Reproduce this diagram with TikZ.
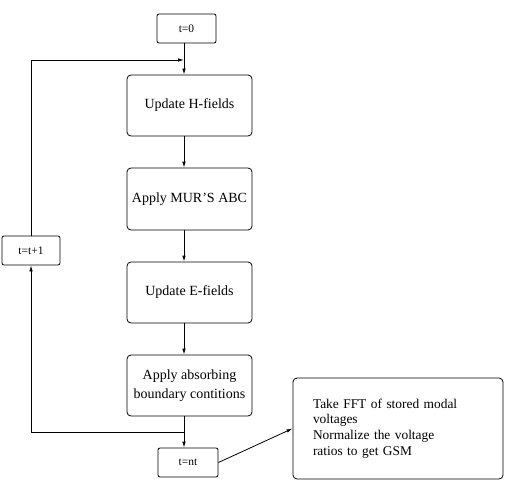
\documentclass[tikz,border=0pt]{standalone}
\usepackage{fontspec}
\setmainfont{Liberation Serif}
\usetikzlibrary{arrows.meta}
\begin{document}
\begin{tikzpicture}[x=1pt,y=-1pt,
  mainbox/.style={draw, line width=0.8pt, rounded corners=4pt, minimum width=125pt, minimum height=61pt, inner sep=2pt, font=\fontsize{14}{19}\selectfont, align=center},
  smallbox/.style={draw, line width=0.8pt, rounded corners=2pt, minimum width=59pt, minimum height=29pt, inner sep=1pt, font=\fontsize{11.5}{13}\selectfont},
  conn/.style={line width=0.8pt, -{Latex[length=6pt,width=3.5pt]}},
  plain/.style={line width=0.8pt}]
\useasboundingbox (0,0) rectangle (510,484);
\coordinate (col) at (184,0);
\node[smallbox] (t0) at (186.5,28.5) {t=0};
\node[mainbox] (h) at (189.5,105.5) {Update H-fields};
\node[mainbox, minimum height=62pt] (mur) at (189.5,199) {Apply MUR’S ABC};
\node[mainbox] (e) at (189.5,292.5) {Update E-fields};
\node[mainbox] (abs) at (189.5,385.5) {Apply absorbing\\boundary contitions};
\node[smallbox, minimum width=60pt] (tnt) at (188,462.5) {t=nt};
\node[smallbox, minimum width=58pt] (tt1) at (31,250.5) {t=t+1};
\node[draw, line width=0.8pt, rounded corners=4pt, minimum width=210pt, minimum height=101pt, text width=170pt, inner xsep=20pt, align=left, font=\fontsize{13.4}{15.7}\selectfont] (res) at (398,428.5) {Take FFT of stored modal\\voltages\\Normalize the voltage\\ratios to get GSM};
\coordinate (join) at (184,432);
\coordinate (top) at (184,60);
\draw[conn] (t0.south -| col) -- (h.north -| col);
\draw[conn] (h.south -| col) -- (mur.north -| col);
\draw[conn] (mur.south -| col) -- (e.north -| col);
\draw[conn] (e.south -| col) -- (abs.north -| col);
\draw[conn] (abs.south -| col) -- (tnt.north -| col);
\draw[conn] (join) -| (tt1.south);
\draw[conn] (tt1.north) |- (top);
\draw[conn] (tnt.east) -- (res.west);
\end{tikzpicture}
\end{document}
